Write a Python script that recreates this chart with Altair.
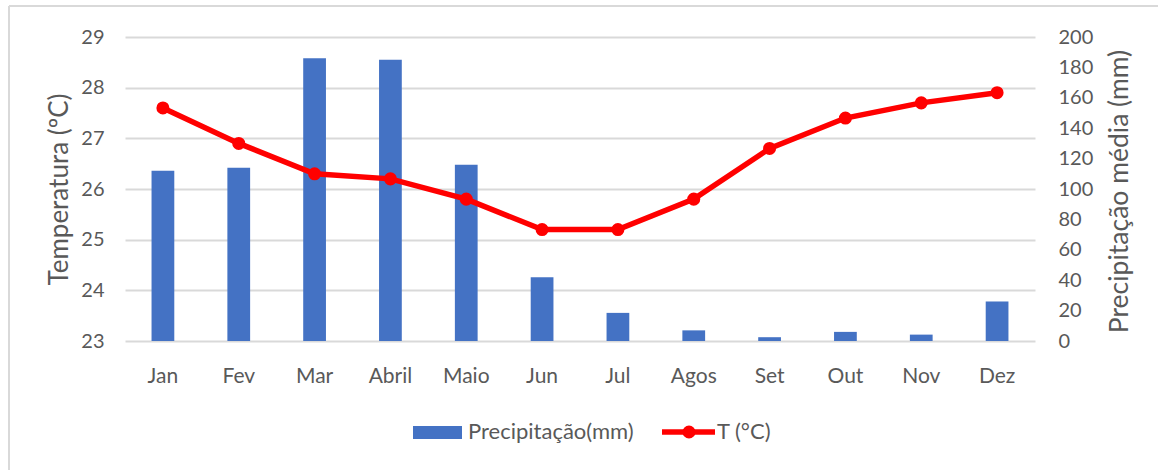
import altair as alt
import pandas as pd

months = ["Jan", "Fev", "Mar", "Abril", "Maio", "Jun", "Jul", "Agos", "Set", "Out", "Nov", "Dez"]
precip_mm = [112, 114, 186, 185, 116, 42, 18.5, 7, 2.5, 6, 4.2, 26]
temp_c = [27.6, 26.9, 26.3, 26.2, 25.8, 25.2, 25.2, 25.8, 26.8, 27.4, 27.7, 27.9]

FONT = "Lato"
GREY = "#595959"
GRID = "#d9d9d9"
BLUE = "#4472C4"
RED = "#FF0000"

df = pd.DataFrame({"mes": months, "precip": precip_mm, "temp": temp_c})

x_enc = alt.X(
    "mes:N",
    sort=months,
    scale=alt.Scale(type="band", paddingInner=0.7, paddingOuter=0.35),
    axis=alt.Axis(
        title=None, labelAngle=0, ticks=False, domain=False, grid=False,
        labelFont=FONT, labelFontSize=21, labelColor=GREY, labelPadding=24,
    ),
)

bars = alt.Chart(df).mark_bar(color=BLUE).encode(
    x=x_enc,
    y=alt.Y(
        "precip:Q",
        scale=alt.Scale(domain=[0, 200], nice=False),
        axis=alt.Axis(
            orient="right", title="Precipitação média (mm)", values=list(range(0, 201, 20)),
            grid=False, ticks=False, domain=False,
            labelFont=FONT, labelFontSize=20, labelColor=GREY, labelPadding=23,
            titleFont=FONT, titleFontSize=26.5, titleColor=GREY, titleFontWeight="normal",
            titleAngle=270, titleAlign="center", titleBaseline="middle",
            titleX=84, titleY=154,
        ),
    ),
)

temp_line = alt.Chart(df).mark_line(
    color=RED, strokeWidth=5.5,
    point=alt.OverlayMarkDef(color=RED, size=170, filled=True, opacity=1),
).encode(
    x=x_enc,
    y=alt.Y(
        "temp:Q",
        scale=alt.Scale(domain=[23, 29], nice=False, zero=False),
        axis=alt.Axis(
            orient="left", title="Temperatura (ºC)", values=[23, 24, 25, 26, 27, 28, 29],
            grid=True, gridColor=GRID, gridWidth=2, ticks=False, domain=False,
            labelFont=FONT, labelFontSize=20, labelColor=GREY, labelPadding=21,
            titleFont=FONT, titleFontSize=26, titleColor=GREY, titleFontWeight="normal",
            titleAngle=270, titleAlign="center", titleBaseline="middle",
            titleX=-66, titleY=152,
        ),
    ),
)

main = alt.layer(bars, temp_line).resolve_scale(y="independent")

# Legend and outer frame drawn as plain decorations below/around the plot
one = pd.DataFrame({"k": [0]})
base = alt.Chart(one)

leg_rect = base.mark_rect(color=BLUE).encode(
    x=alt.value(288), x2=alt.value(337), y=alt.value(389), y2=alt.value(402)
)
leg_text1 = base.mark_text(
    text="Precipitação(mm)", align="left", baseline="middle",
    font=FONT, fontSize=22, color=GREY,
).encode(x=alt.value(343), y=alt.value(395))
leg_line = base.mark_rule(color=RED, strokeWidth=5.5).encode(
    x=alt.value(537), x2=alt.value(590), y=alt.value(395)
)
leg_dot = base.mark_circle(color=RED, size=170, opacity=1).encode(
    x=alt.value(564), y=alt.value(395)
)
leg_text2 = base.mark_text(
    text="T (°C)", align="left", baseline="middle",
    font=FONT, fontSize=22, color=GREY,
).encode(x=alt.value(592), y=alt.value(395))

frame_left = base.mark_rule(color=GRID, strokeWidth=2).encode(
    x=alt.value(-116), y=alt.value(-31), y2=alt.value(440)
)
frame_top = base.mark_rule(color=GRID, strokeWidth=2).encode(
    x=alt.value(-116), x2=alt.value(1040), y=alt.value(-31)
)

chart = alt.layer(
    main, leg_rect, leg_text1, leg_line, leg_dot, leg_text2, frame_left, frame_top
).properties(
    width=910, height=304,
    autosize=alt.AutoSizeParams(type="none"),
    padding={"left": 125, "top": 37, "right": 123, "bottom": 129},
    background="white",
).configure_view(stroke=None)

chart.save("out.html", embed_options={"renderer": "svg", "actions": False})
